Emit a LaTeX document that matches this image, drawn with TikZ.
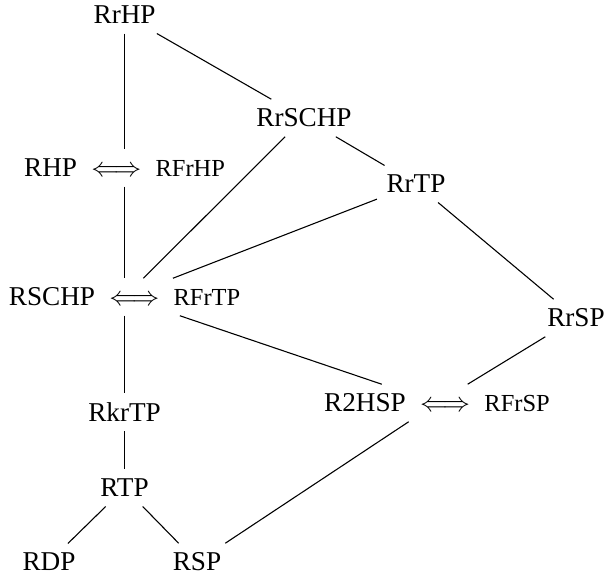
\documentclass[tikz,border=0pt]{standalone}
\usepackage{fontspec}
\setmainfont{Liberation Serif}
\begin{document}
\begin{tikzpicture}[x=0.3676pt,y=-0.3676pt,
  every node/.style={font=\normalsize}]
\useasboundingbox (0,0) rectangle (608,580);
\node (rrhp)   at (124.6,15)  {RrHP};
\node (rrschp) at (304,118) {RrSCHP};
\node (rrtp)   at (416,184) {RrTP};
\node (rhp)    at (124.6,168) {RHP~$\iff$~{\small RFrHP}};
\node (rschp)  at (124.6,297) {RSCHP~$\iff$~{\small RFrTP}};
\node (rrsp)   at (576,318) {RrSP};
\node (r2hsp)  at (437,403) {R2HSP~$\iff$~{\small RFrSP}};
\node (rkrtp)  at (124.6,412) {RkrTP};
\node (rtp)    at (124.6,488) {RTP};
\node (rdp)    at (49,562)  {RDP};
\node (rsp)    at (197,562) {RSP};

\draw (rrhp) -- (rhp);
\draw (rhp) -- (rschp);
\draw (rschp) -- (rkrtp);
\draw (rkrtp) -- (rtp);
\draw (rrhp) -- (rrschp);
\draw (rrschp) -- (rschp);
\draw (rrschp) -- (rrtp);
\draw (rrtp) -- (rschp);
\draw (rrtp) -- (rrsp);
\draw (rschp) -- (r2hsp);
\draw (rrsp) -- (r2hsp);
\draw (r2hsp) -- (rsp);
\draw (rtp) -- (rdp);
\draw (rtp) -- (rsp);
\end{tikzpicture}
\end{document}
